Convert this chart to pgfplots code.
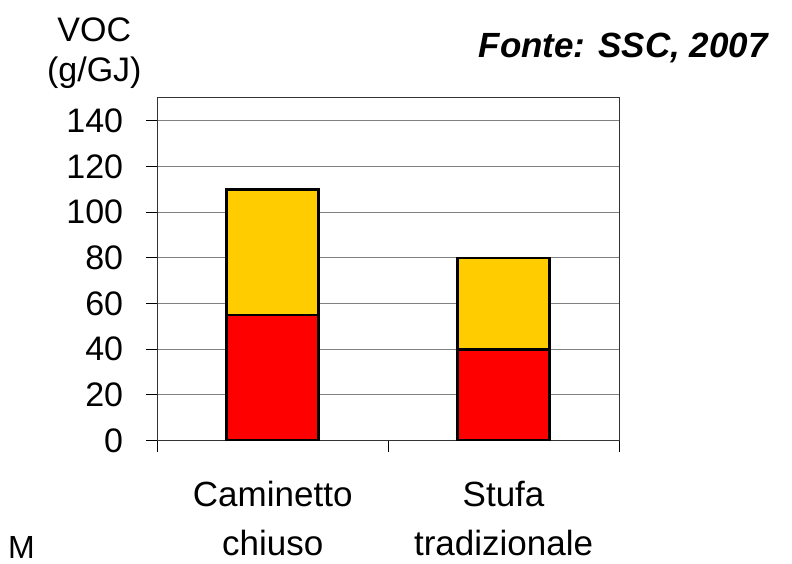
\documentclass[border=0pt]{standalone}
\usepackage{fontspec}
\setmainfont{Liberation Sans}
\usepackage{pgfplots}
\pgfplotsset{compat=1.18}

\definecolor{barred}{HTML}{FF0000}
\definecolor{baryellow}{HTML}{FFCC00}

\begin{document}
\begin{tikzpicture}
\useasboundingbox (-157.3pt,-122.3pt) rectangle (634.7pt,440.7pt);
\begin{axis}[
    at={(0pt,0pt)}, anchor=south west,
    scale only axis,
    width=461.7pt, height=343.7pt,
    ybar stacked,
    bar width=92pt,
    xmin=-0.5, xmax=1.5,
    ymin=0, ymax=150.4,
    ytick={0,20,...,140},
    xtick={-0.5,0.5,1.5},
    xticklabels={},
    extra x ticks={0,1},
    extra x tick labels={Caminetto\\chiuso, Stufa\\tradizionale},
    extra x tick style={major tick length=0pt, grid=none,
        tick label style={align=center, font=\fontsize{35}{49}\selectfont,
                          inner sep=0pt, yshift=-40pt}},
    tick pos=left,
    tick align=outside,
    major tick length=11pt,
    tick style={black, line width=1pt},
    ymajorgrids,
    grid style={draw=gray, line width=1pt},
    axis line style={draw=black!80, line width=1pt},
    /pgf/number format/assume math mode=true,
    yticklabel style={font=\fontsize{34}{40}\selectfont, inner sep=0pt, xshift=-23pt},
    ]
\addplot[fill=barred, draw=black, line width=2.5pt] coordinates {(0,55) (1,40)};
\addplot[fill=baryellow, draw=black, line width=2.5pt] coordinates {(0,55) (1,40)};
\end{axis}
\node[anchor=base, font=\fontsize{34}{40}\selectfont] at (-63pt,398.7pt) {VOC};
\node[anchor=base, font=\fontsize{34}{40}\selectfont] at (-63pt,358.7pt) {(g/GJ)};
\node[anchor=base east, inner sep=0pt, font=\fontsize{35}{40}\selectfont\bfseries\itshape] at (610.7pt,382.7pt) {Fonte: SSC, 2007};
\node[anchor=base west, inner sep=0pt, font=\fontsize{32}{40}\selectfont] at (-149.3pt,-118pt) {M};
\end{tikzpicture}
\end{document}
